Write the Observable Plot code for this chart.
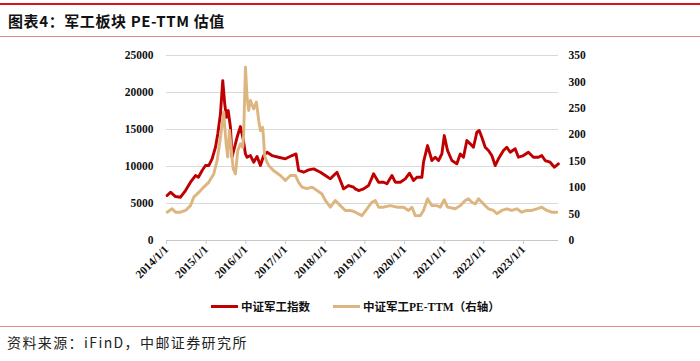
<!DOCTYPE html>
<html>
<head>
<meta charset="utf-8">
<script src="https://cdn.jsdelivr.net/npm/d3@7"></script>
<script src="https://cdn.jsdelivr.net/npm/@observablehq/plot@0.6"></script>
<style>
  html, body { margin: 0; padding: 0; background: #fff; }
  #page { position: relative; width: 700px; height: 361px; overflow: hidden; }
  .topline { position: absolute; left: 0; top: 3px; width: 700px; height: 2px; background: #D7141A; }
  .title { position: absolute; left: 8px; top: 12px; font-family: "Noto Sans CJK SC", sans-serif; font-weight: bold; font-size: 15px; letter-spacing: 0.6px; color: #111; line-height: 18px; }
  .subline { position: absolute; left: 0; top: 36px; width: 700px; height: 1px; background: #E48A8A; }
  #chart { position: absolute; left: 0; top: 40px; }
  .legend { position: absolute; top: 297px; left: 0; width: 700px; height: 18px; font-family: "Liberation Serif", "Noto Sans CJK SC", serif; font-weight: bold; font-size: 11.5px; color: #111; }
  .legend .item { position: absolute; top: 0; display: flex; align-items: center; height: 18px; }
  .legend .sw { width: 27px; height: 3px; margin-right: 3px; }
  .footline { position: absolute; left: 0; top: 326px; width: 700px; height: 1px; background: #E48A8A; }
  .source { position: absolute; left: 7px; top: 334px; font-family: "Noto Sans CJK SC", sans-serif; font-size: 14px; letter-spacing: 1.4px; color: #222; line-height: 17px; }
</style>
</head>
<body>
<div id="page">
  <div class="topline"></div>
  <div class="title">图表4：军工板块 PE-TTM 估值</div>
  <div class="subline"></div>
  <div id="chart"></div>
  <div class="legend">
    <div class="item" style="left:211px"><div class="sw" style="background:#C00000"></div><span>中证军工指数</span></div>
    <div class="item" style="left:333px"><div class="sw" style="background:#DDB57F"></div><span>中证军工PE-TTM（右轴）</span></div>
  </div>
  <div class="footline"></div>
  <div class="source">资料来源：iFinD，中邮证券研究所</div>
</div>
<script>
// ---- data ----
const seriesNames = ["中证军工指数", "中证军工PE-TTM（右轴）"];

const indexDates = [
  "2014-01-07","2014-02-07","2014-03-25","2014-05-10","2014-06-25","2014-08-10","2014-09-25","2014-10-22",
  "2014-11-25","2014-12-26","2015-01-25","2015-02-25","2015-03-28","2015-04-18","2015-05-13","2015-06-03",
  "2015-06-21","2015-07-07","2015-07-23","2015-08-13","2015-08-28","2015-09-12","2015-10-13","2015-11-13",
  "2015-12-08","2015-12-29","2016-01-13","2016-02-13","2016-03-14","2016-04-14","2016-05-15","2016-06-14",
  "2016-07-15","2016-08-30","2016-10-30","2016-12-31","2017-03-02","2017-04-08","2017-05-02","2017-06-17",
  "2017-08-02","2017-09-17","2017-11-18","2018-01-03","2018-02-18","2018-03-20","2018-04-20","2018-05-21",
  "2018-06-20","2018-08-05","2018-09-20","2018-10-06","2018-11-05","2018-12-21","2019-02-05","2019-03-23",
  "2019-05-08","2019-06-23","2019-07-24","2019-09-08","2019-10-09","2019-11-24","2020-01-09","2020-02-17",
  "2020-03-25","2020-04-25","2020-06-10","2020-06-25","2020-08-01","2020-09-10","2020-10-11","2020-11-10",
  "2020-12-11","2021-01-02","2021-02-01","2021-03-13","2021-04-28","2021-05-29","2021-06-28","2021-07-29",
  "2021-08-29","2021-09-28","2021-10-29","2021-11-20","2021-12-14","2022-01-14","2022-02-13","2022-03-16",
  "2022-04-16","2022-05-16","2022-07-01","2022-08-01","2022-09-01","2022-10-17","2022-11-16","2023-01-01",
  "2023-02-16","2023-04-03","2023-05-19","2023-06-19","2023-07-20","2023-09-04","2023-10-13","2023-11-19"
];
const indexValues = [
  6080,6530,5940,5850,6750,7880,8780,8550,
  9460,10130,10130,11040,12600,14400,17150,21600,
  18500,16650,17560,15300,11250,12160,13950,15400,
  13740,11700,11250,11480,10580,11350,10130,11480,
  11930,11480,11250,11040,11480,11700,9460,9230,
  9550,9680,9230,8780,8330,8780,9230,8100,
  6980,7430,7200,6980,6750,6980,7430,9010,
  7880,7880,7660,8780,7880,7880,8330,9100,
  8100,8550,8550,10580,12830,10810,11250,10810,
  11700,14180,12160,10810,10360,11700,11250,13510,
  13060,12600,14630,14860,13950,12600,12160,11480,
  10130,11040,12160,12600,11930,12390,11250,11480,
  11930,11250,11250,11480,10810,10580,9900,10360
];

const peDates = [
  "2014-01-07","2014-02-22","2014-03-25","2014-05-10","2014-06-25","2014-08-10","2014-09-09","2014-10-25",
  "2014-12-10","2015-01-25","2015-03-12","2015-04-12","2015-05-13","2015-06-12","2015-07-04","2015-07-19",
  "2015-08-04","2015-08-19","2015-09-07","2015-09-28","2015-10-19","2015-11-13","2015-12-04","2015-12-13",
  "2015-12-29","2016-01-13","2016-01-28","2016-02-13","2016-03-14","2016-04-08","2016-04-29","2016-05-15",
  "2016-06-05","2016-06-14","2016-06-23","2016-07-15","2016-07-30","2016-09-14","2016-11-15","2016-12-31",
  "2017-02-15","2017-04-02","2017-05-02","2017-06-02","2017-07-18","2017-09-02","2017-10-18","2017-12-03",
  "2018-01-03","2018-02-18","2018-04-05","2018-05-21","2018-07-06","2018-08-21","2018-10-06","2018-12-06",
  "2019-01-21","2019-03-08","2019-04-08","2019-05-08","2019-06-23","2019-08-24","2019-10-24","2019-12-24",
  "2020-02-08","2020-03-10","2020-04-10","2020-05-26","2020-06-25","2020-08-01","2020-09-10","2020-10-26",
  "2020-11-26","2021-01-02","2021-02-01","2021-04-13","2021-05-29","2021-07-14","2021-08-13","2021-09-13",
  "2021-10-14","2021-11-13","2021-12-14","2022-01-14","2022-02-13","2022-03-31","2022-05-01","2022-06-16",
  "2022-08-01","2022-09-16","2022-11-01","2022-12-17","2023-02-01","2023-03-19","2023-05-04","2023-06-19",
  "2023-08-04","2023-09-19","2023-11-04"
];
const peValues = [
  53.5,60,53.5,53.5,56.8,66,82,91,
  101,110,126,151,195,243,183,158,
  208,176,136,126,170,183,176,202,
  328,271,246,265,249,262,227,208,
  214,189,160,148,142,132,123,113.5,
  123,123,110,101,98,101,94.6,88,
  75.7,63,75.7,66,56.8,56.8,53.5,47,
  60,72.5,75.7,63,63,66,63,63,
  56.8,63,47,47,56.8,79,66,66,
  63,77,63,60,66,75.7,79,72.5,
  69,79,72.5,66,60,56.8,50.5,56.8,
  60,56.8,60,53.5,56.8,56.8,60,63,
  56.8,53.5,53.5
];

const leftTicks = [0, 5000, 10000, 15000, 20000, 25000];
const rightTicks = [0, 50, 100, 150, 200, 250, 300, 350];
const yearTicks = ["2014-01-01","2015-01-01","2016-01-01","2017-01-01","2018-01-01","2019-01-01","2020-01-01","2021-01-01","2022-01-01","2023-01-01"];
const yearLabels = ["2014/1/1","2015/1/1","2016/1/1","2017/1/1","2018/1/1","2019/1/1","2020/1/1","2021/1/1","2022/1/1","2023/1/1"];

// ---- build ----
const k = 25000 / 350; // right axis to left axis
const idx = indexDates.map((d, i) => ({date: new Date(d), v: indexValues[i]}));
const pe = peDates.map((d, i) => ({date: new Date(d), v: peValues[i] * k}));
const yt = yearTicks.map(d => new Date(d));
const labelOf = new Map(yt.map((d, i) => [+d, yearLabels[i]]));

const chart = Plot.plot({
  width: 700,
  height: 250,
  marginLeft: 166,
  marginRight: 142,
  marginTop: 15,
  marginBottom: 50,
  x: {type: "utc", domain: [new Date("2014-01-01"), new Date("2023-11-20")]},
  y: {domain: [0, 25000]},
  style: {fontFamily: "Liberation Serif, serif", fontWeight: "bold", fontSize: "11.5px", color: "#111", background: "transparent"},
  marks: [
    Plot.gridY(leftTicks.slice(1), {stroke: "#D9D9D9", strokeOpacity: 1, strokeWidth: 1}),
    Plot.ruleY([0], {stroke: "#C8C8C8", strokeWidth: 1}),
    Plot.axisX({ticks: yt, tickFormat: d => labelOf.get(+d), tickRotate: -45, tickSize: 4, tickPadding: 3, stroke: "#C8C8C8", fill: "#111", label: null}),
    Plot.axisY({anchor: "left", ticks: leftTicks, tickFormat: d => String(d), tickSize: 0, tickPadding: 13, label: null}),
    Plot.axisY({anchor: "right", ticks: rightTicks.map(v => v * k), tickFormat: d => String(Math.round(d / k)), tickSize: 0, tickPadding: 10, textAnchor: "start", label: null}),
    Plot.line(idx, {x: "date", y: "v", stroke: "#C00000", strokeWidth: 2.9}),
    Plot.line(pe, {x: "date", y: "v", stroke: "#DDB57F", strokeWidth: 2.9})
  ]
});
document.getElementById("chart").appendChild(chart);
</script>
</body>
</html>
